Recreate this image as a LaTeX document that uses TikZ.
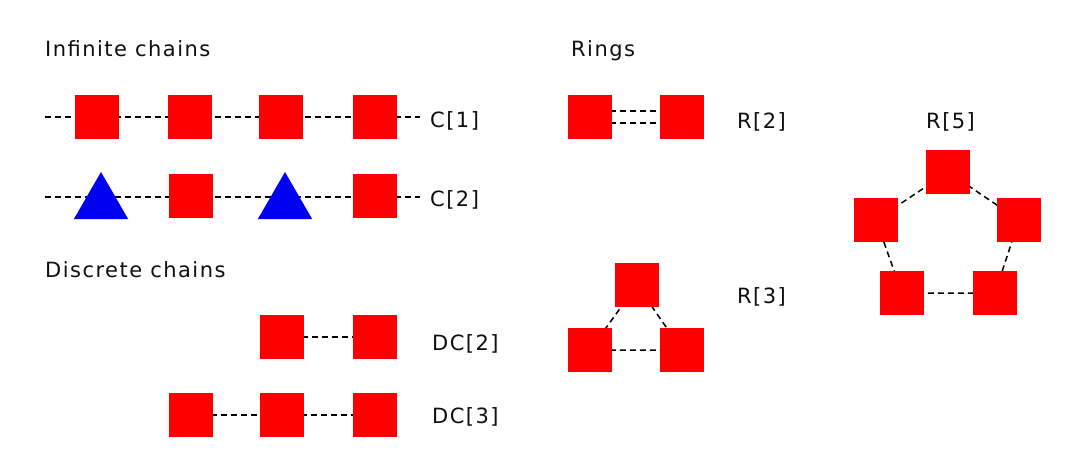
\documentclass[tikz,border=0pt]{standalone}
\usepackage{fontspec}
\setmainfont{DejaVu Sans}[LetterSpace=7]
\usetikzlibrary{shapes.geometric,backgrounds}
\definecolor{sqred}{RGB}{255,0,0}
\definecolor{triblue}{RGB}{0,0,240}
\definecolor{txt}{RGB}{15,15,15}
\begin{document}
\begin{tikzpicture}[x=1pt,y=-1pt,
  sq/.style={rectangle,fill=sqred,minimum size=44pt,inner sep=0pt},
  tri/.style={regular polygon,regular polygon sides=3,fill=triblue,minimum size=63pt,inner sep=0pt},
  dsh/.style={draw=black,line width=1.5pt,dash pattern=on 6pt off 4pt},
  lbl/.style={anchor=base west,inner sep=0pt,text=txt,font=\fontsize{21}{25}\selectfont},
]
\useasboundingbox (0,0) rectangle (1080,468);
% headings
\node[lbl] (h1) at (45,57) {Infinite chains};
\node[lbl] (h2) at (571,57) {Rings};
\node[lbl] (h3) at (45,277) {Discrete chains};
% C[1]
\node[sq] (a1) at (97,117) {};
\node[sq] (a2) at (190,117) {};
\node[sq] (a3) at (281,117) {};
\node[sq] (a4) at (375,117) {};
\coordinate (c1L) at (45,117);
\coordinate (c1R) at (420,117);
\node[lbl] (lc1) at (430,128) {C[1]};
% C[2]
\node[tri] (b1) at (101,203.5) {};
\node[sq] (b2) at (191,196) {};
\node[tri] (b3) at (285,203.5) {};
\node[sq] (b4) at (375,196) {};
\coordinate (c2L) at (45,197);
\coordinate (c2R) at (420,197);
\node[lbl] (lc2) at (430,207) {C[2]};
% DC[2]
\node[sq] (d1) at (282,337) {};
\node[sq] (d2) at (375,337) {};
\node[lbl] (ld2) at (432,350) {DC[2]};
% DC[3]
\node[sq] (e1) at (191,415) {};
\node[sq] (e2) at (282,415) {};
\node[sq] (e3) at (375,415) {};
\node[lbl] (ld3) at (432,423) {DC[3]};
% R[2]
\node[sq] (r1) at (590,117) {};
\node[sq] (r2) at (682,117) {};
\node[lbl] (lr2) at (737,129) {R[2]};
% R[3]
\node[sq] (s1) at (637,285) {};
\node[sq] (s2) at (590,350) {};
\node[sq] (s3) at (682,350) {};
\node[lbl] (lr3) at (737,303) {R[3]};
% R[5]
\node[sq] (p1) at (948,172) {};
\node[sq] (p2) at (876,220) {};
\node[sq] (p3) at (1019,220) {};
\node[sq] (p4) at (902,293) {};
\node[sq] (p5) at (995,293) {};
\node[lbl] (lr5) at (926,129) {R[5]};
% connectors
\begin{pgfonlayer}{background}
\fill[white] (0,0) rectangle (1080,468);
\draw[dsh] (c1L) -- (a1.center) -- (a2.center) -- (a3.center) -- (a4.center) -- (c1R);
\draw[dsh] (c2L) -- (c2R);
\draw[dsh] (d1.center) -- (d2.center);
\draw[dsh] (e1.center) -- (e2.center) -- (e3.center);
\draw[dsh] ([yshift=6pt]r1.center) -- ([yshift=6pt]r2.center);
\draw[dsh] ([yshift=-6pt]r1.center) -- ([yshift=-6pt]r2.center);
\draw[dsh] (s1.center) -- (s2.center) -- (s3.center) -- (s1.center);
\draw[dsh] (p1.center) -- (p2.center) -- (p4.center) -- (p5.center) -- (p3.center) -- (p1.center);
\end{pgfonlayer}
\end{tikzpicture}
\end{document}
